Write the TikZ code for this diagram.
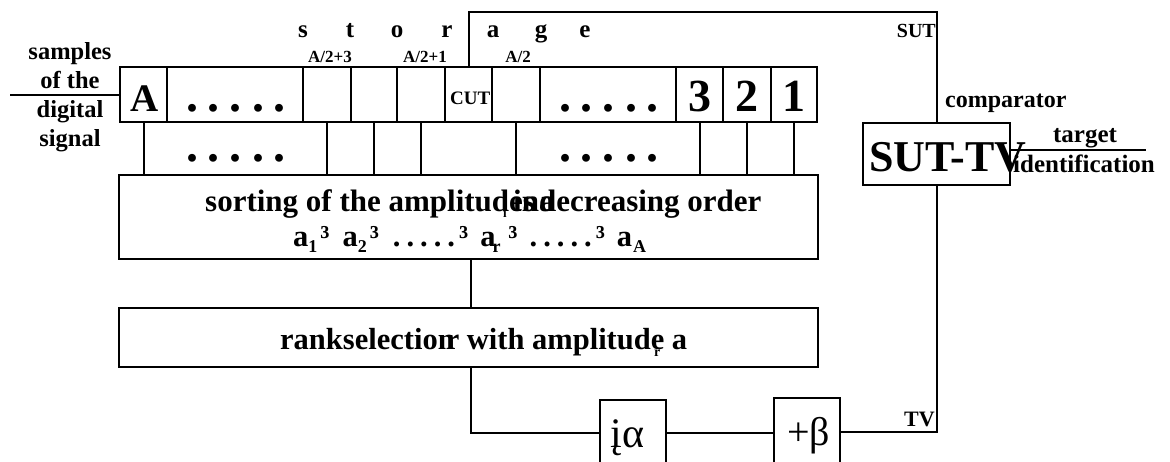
\documentclass[tikz,border=0pt]{standalone}
\usepackage{fontspec}
\setmainfont{Liberation Serif}
\newcommand{\fs}[1]{\fontsize{#1}{#1}\selectfont}
\newcommand{\sbs}[1]{\raisebox{-6pt}{\fs{18}#1}}
\newcommand{\dotrow}[1]{.\kern#1.\kern#1.\kern#1.\kern#1.}
\begin{document}
\begin{tikzpicture}[x=1pt,y=-1pt,
  cell/.style={draw, line width=2.6pt, minimum height=55pt, inner sep=0pt},
  bigbox/.style={draw, line width=2.6pt, inner sep=0pt},
  smallbox/.style={draw, line width=2pt, inner sep=0pt},
  wire/.style={line width=2pt},
  lbl/.style={inner sep=0pt, font=\bfseries}]
\useasboundingbox (0,0) rectangle (1170,462);
\clip (0,0) rectangle (1170,462);
% storage row
\node[cell, minimum width=47pt] (c1) at (143.5,94.5) {};
\node[cell, minimum width=136pt] (c2) at (235,94.5) {};
\node[cell, minimum width=48pt] (c3) at (327,94.5) {};
\node[cell, minimum width=46pt] (c4) at (374,94.5) {};
\node[cell, minimum width=48pt] (c5) at (421,94.5) {};
\node[cell, minimum width=47pt] (c6) at (468.5,94.5) {};
\node[cell, minimum width=48pt] (c7) at (516,94.5) {};
\node[cell, minimum width=136pt] (c8) at (608,94.5) {};
\node[cell, minimum width=47pt] (c9) at (699.5,94.5) {};
\node[cell, minimum width=48pt] (c10) at (747,94.5) {};
\node[cell, minimum width=46pt] (c11) at (794,94.5) {};
% boxes
\node[bigbox, minimum width=699pt, minimum height=84pt] (sort) at (468.5,217) {};
\node[bigbox, minimum width=699pt, minimum height=59pt] (rank) at (468.5,337.5) {};
\node[bigbox, minimum width=147pt, minimum height=62pt] (cmp) at (936.5,154) {};
\node[smallbox, minimum width=66pt, minimum height=100pt] (alpha) at (633,450) {};
\node[smallbox, minimum width=66pt, minimum height=100pt] (beta) at (807,448) {};
% coordinates
\coordinate (inp) at (10,95);
\coordinate (j1) at (471,433);
\coordinate (j2) at (936.5,432);
\coordinate (j3) at (936.5,12);
\coordinate (tgt) at (1146,150);
% connectors
\draw[wire] (inp) -- (inp -| c1.west);
\foreach \c in {c1,c3,c4,c5,c7,c9,c10,c11}
  \draw[wire] (\c.south) -- (\c.south |- sort.north);
\draw[wire] (sort.south -| j1) -- (rank.north -| j1);
\draw[wire] (rank.south -| j1) -- (j1) -- (j1 -| alpha.west);
\draw[wire] (alpha.east |- j1) -- (beta.west |- j1);
\draw[wire] (beta.east |- j2) -- (j2) -- (cmp.south);
\draw[wire] (cmp.north) -- (j3) -| (c6.north);
\draw[wire] (cmp.east |- tgt) -- (tgt);
% texts
\node[lbl, font=\bfseries\fs{24.5}, align=center, anchor=base] (samp) at (70,147)
  {samples\\[4.5pt]of the\\[4.5pt]digital\\[4.5pt]signal};
\foreach \x/\t [count=\i] in {303/s,350/t,397/o,447/r,493/a,541/g,585/e}
  \node[lbl, font=\bfseries\fs{25}, anchor=base] (st\i) at (\x,38) {\t};
\node[lbl, font=\bfseries\fs{17}, anchor=base] (l3) at (330,63) {A/2+3};
\node[lbl, font=\bfseries\fs{17}, anchor=base] (l1) at (425,63) {A/2+1};
\node[lbl, font=\bfseries\fs{17}, anchor=base] (l0) at (518,63) {A/2};
\node[lbl, font=\bfseries\fs{39}, anchor=base] (tA) at (144.5,112) {A};
\node[lbl, font=\bfseries\fs{46}, anchor=base] (t3) at (699.5,112) {3};
\node[lbl, font=\bfseries\fs{46}, anchor=base] (t2) at (747,112) {2};
\node[lbl, font=\bfseries\fs{46}, anchor=base] (t1) at (794,112) {1};
\node[lbl, font=\bfseries\fs{19}, anchor=base west] (cut) at (450,105) {CUT};
\node[lbl, font=\bfseries\fs{48}, anchor=base] (d1) at (236,112) {\dotrow{10pt}};
\node[lbl, font=\bfseries\fs{48}, anchor=base] (d2) at (609,112) {\dotrow{10pt}};
\node[lbl, font=\bfseries\fs{48}, anchor=base] (d3) at (236,162) {\dotrow{10pt}};
\node[lbl, font=\bfseries\fs{48}, anchor=base] (d4) at (609,162) {\dotrow{10pt}};
\node[lbl, font=\bfseries\fs{31}, anchor=base west] (sort1) at (205,212)
  {sorting of the amplitud\rlap{es}\rlap{\kern-6pt\raisebox{-6pt}{\fs{13}i}}\kern4pt in\rlap{a}decreasing order};
\node[lbl, font=\bfseries\fs{30.5}, anchor=base west] (sort2) at (293,247)
  {a\sbs{1}\kern3pt³\kern13pt a\sbs{2}\kern3pt³\kern14pt\dotrow{6pt}\kern4pt³\kern12pt a\kern-3pt\sbs{r}\kern8pt³\kern12pt\dotrow{6pt}\kern4pt³\kern12pt a\kern1pt\sbs{A}};
\node[lbl, font=\bfseries\fs{30.5}, anchor=base west] (rank1) at (280,349)
  {rankselectio\rlap{n}\kern8pt r with amplitude\llap{\raisebox{-7pt}{\fs{14}r}\kern4pt}\ a};
\node[lbl, font=\bfseries\fs{20}, anchor=base east] (sut) at (936,38) {SUT};
\node[lbl, font=\bfseries\fs{24}, anchor=base west] (comp) at (945,108) {comparator};
\node[lbl, font=\bfseries\fs{25}, anchor=base] (targ) at (1085,143) {target};
\node[lbl, font=\bfseries\fs{25}, anchor=base west] (ident) at (1013,173) {identification};
\node[lbl, font=\bfseries\fs{44}, anchor=base west] (suttv) at (869,172) {SUT-TV};
\node[lbl, font=\bfseries\fs{22}, anchor=base east] (tv) at (935,426) {TV};
\node[inner sep=0pt, font=\fs{42}, anchor=base west] (ta) at (610,447) {į\kern1ptα};
\node[inner sep=0pt, font=\fs{40}, anchor=base west] (tb) at (787,445) {+β};
\end{tikzpicture}
\end{document}
